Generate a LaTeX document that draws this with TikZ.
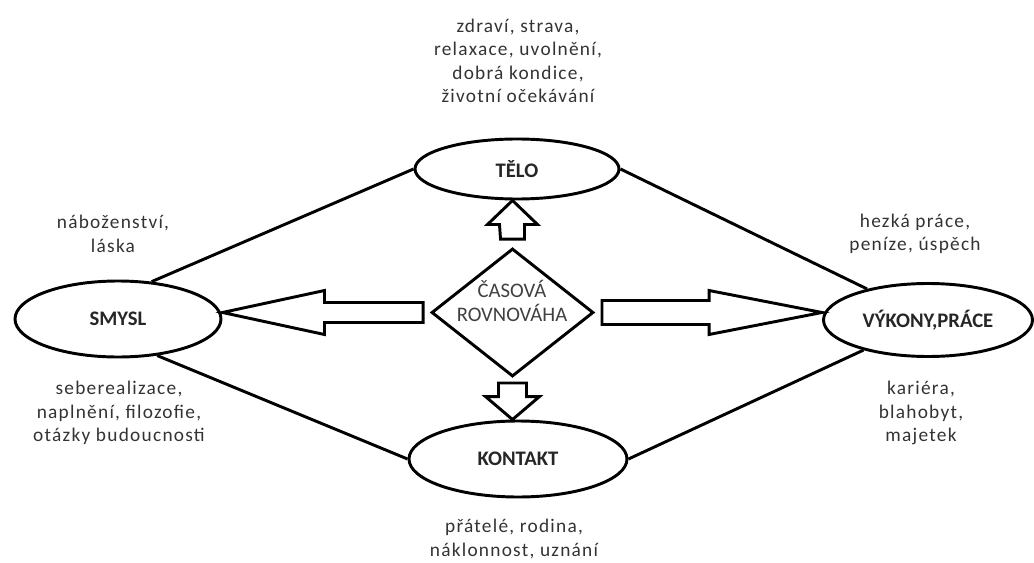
\documentclass[tikz,border=0pt]{standalone}
\usepackage{fontspec}
\setmainfont{Carlito}
\newfontfamily\notefont[LetterSpace=6.5]{Carlito}
\usetikzlibrary{shapes.geometric,calc}

\begin{document}
\begin{tikzpicture}[x=0.75pt, y=-0.75pt,
    area/.style={ellipse, draw, line width=2.2pt, inner sep=0pt, font=\fontsize{15.5}{18}\selectfont\bfseries, text=black!85},
    note/.style={align=center, font=\notefont\fontsize{14.5}{17.5}\selectfont, text=black!80},
    link/.style={line width=2.2pt},
    fatarrow/.style={draw, line width=2.2pt, fill=white}]
    \useasboundingbox (0,0) rectangle (1034,563);

    % Nodes
    \node [diamond, draw, line width=2.2pt, minimum width=121.5pt, minimum height=96pt, inner sep=0pt] (cas) at (512.5,312.5) {};
    \node [align=center, font=\fontsize{15.5}{17.5}\selectfont, text=black!75] (castext) at (512,301) {ČASOVÁ\\ROVNOVÁHA};
    \node [area, minimum width=153pt, minimum height=45pt] (telo) at (517,169) {TĚLO};
    \node [area, minimum width=163.5pt, minimum height=57pt] (kontakt) at (518,459) {KONTAKT};
    \node [area, minimum width=154.5pt, minimum height=57pt] (smysl) at (118,319) {SMYSL};
    \node [area, minimum width=156.75pt, minimum height=54.75pt] (vykony) at (928,320) {VÝKONY,PRÁCE};

    % Notes
    \node [note] (telonote) at (518,61) {zdraví, strava,\\relaxace, uvolnění,\\dobrá kondice,\\životní očekávání};
    \node [note] (smyslup) at (113,234) {náboženství,\\láska};
    \node [note] (smysldown) at (119,413) {seberealizace,\\naplnění, filozofie,\\otázky budoucnosti};
    \node [note] (vykonyup) at (915,234) {hezká práce,\\peníze, úspěch};
    \node [note] (vykonydown) at (921,413) {kariéra,\\blahobyt,\\majetek};
    \node [note] (kontaktnote) at (514,539) {přátelé, rodina,\\náklonnost, uznání};

    % Links
    \draw [link] (smysl.48) -- (telo.west);
    \draw [link] (smysl.-43) -- (kontakt.west);
    \draw [link] (telo.east) -- (vykony.153);
    \draw [link] (kontakt.east) -- (vykony.205);

    % Block arrows
    \draw [fatarrow] (smysl.east |- cas.west) -- ++(102,-22) -- ++(0,12) -- ($(cas.west)+(-7,-10)$) -- ++(0,20) -- ($(smysl.east |- cas.west)+(102,10)$) -- ++(0,12) -- cycle;
    \draw [fatarrow] (vykony.west |- cas.east) -- ++(-113,-22) -- ++(0,10) -- ($(cas.east)+(7,-12)$) -- ++(0,24) -- ($(vykony.west |- cas.east)+(-113,12)$) -- ++(0,10) -- cycle;
    \draw [fatarrow] (cas.north |- telo.south) -- ++(-25,24) -- ++(12,0) -- ($(cas.north)+(-12,-8)$) -- ++(24,0) -- ($(cas.north |- telo.south)+(12,24)$) -- ++(13,0) -- cycle;
    \draw [fatarrow] (cas.south |- kontakt.north) -- ++(-27,-23) -- ++(13,0) -- ($(cas.south)+(-14,5)$) -- ++(28,0) -- ($(cas.south |- kontakt.north)+(14,-23)$) -- ++(13,0) -- cycle;
\end{tikzpicture}
\end{document}
